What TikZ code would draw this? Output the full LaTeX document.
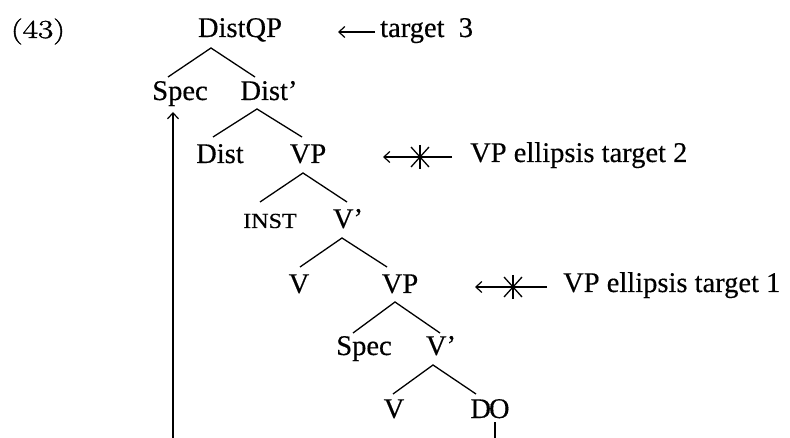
\documentclass[tikz,border=0pt]{standalone}
\usepackage{fontspec}
\setmainfont[FakeBold=0.4]{Liberation Serif}
\newfontfamily\lmfont[FakeBold=1.2]{Latin Modern Roman}
\usetikzlibrary{arrows.meta}
\tikzset{
  lbl/.style={inner sep=0pt, anchor=base, font=\fontsize{28.5}{30}\selectfont},
  lblw/.style={lbl, anchor=base west},
  br/.style={line width=1.3pt},
  ptr/.style={line width=1.3pt, -{Straight Barb[length=6pt,width=11pt,line width=1.2pt]}},
}
\begin{document}
\begin{tikzpicture}[x=1pt,y=-1pt]
\useasboundingbox (0,0) rectangle (790,438);
\node[inner sep=0pt, anchor=base, font=\lmfont\fontsize{26}{28}\selectfont] (n43) at (38,38) {\scalebox{1.28}[1]{(43)}};
\node[lbl] (DistQP) at (240,37) {DistQP};
\node[lbl] (Spec1) at (180,100) {Spec};
\node[lbl] (Dist1p) at (269,100) {Dist’};
\node[lbl] (Dist) at (220,163) {Dist};
\node[lbl] (VP1) at (308,163) {VP};
\node[inner sep=0pt, anchor=base, font=\fontsize{21.5}{24}\selectfont] (INST) at (270,228) {\scalebox{1.12}[1]{INST}};
\node[lbl] (V1p) at (348,228) {V’};
\node[lbl] (V1) at (299,293) {V};
\node[lbl] (VP2) at (400,293) {VP};
\node[lbl] (Spec2) at (364,355) {Spec};
\node[lbl] (V2p) at (441,355) {V’};
\node[lbl] (V2) at (394,418) {V};
\node[lbl] (DO) at (490,418) {D\kern-2ptO};
\node[lblw] (t3) at (380,37) {target\ \ 3};
\node[lblw] (t2) at (470,162) {VP ellipsis target 2};
\node[lblw] (t1) at (563,292) {VP ellipsis target 1};
% tree branches
\draw[br] ([shift={(-12,-23)}]Spec1.base) -- ([shift={(-29,11)}]DistQP.base) -- ([shift={(-14,-23)}]Dist1p.base);
\draw[br] ([shift={(-7,-26)}]Dist.base) -- ([shift={(-12,9)}]Dist1p.base) -- ([shift={(-6,-26)}]VP1.base);
\draw[br] ([shift={(-10,-26)}]INST.base) -- ([shift={(-5,10)}]VP1.base) -- ([shift={(-1,-26)}]V1p.base);
\draw[br] ([shift={(1,-26)}]V1.base) -- ([shift={(-6,10)}]V1p.base) -- ([shift={(-13,-26)}]VP2.base);
\draw[br] ([shift={(-11,-22)}]Spec2.base) -- ([shift={(-5,9)}]VP2.base) -- ([shift={(-1,-22)}]V2p.base);
\draw[br] ([shift={(-1,-24)}]V2.base) -- ([shift={(-8,10)}]V2p.base) -- ([shift={(-14,-24)}]DO.base);
% movement lines
\coordinate (bot1) at (173,438);
\coordinate (bot2) at (495,438);
\draw[ptr] (bot1) -- ([shift={(-7,12)}]Spec1.base);
\draw[br] ([shift={(5,4)}]DO.base) -- (bot2);
% target arrows
\coordinate (a3) at (375,32);
\draw[ptr] (a3) -- ([shift={(-42,-5)}]t3.base west);
\coordinate (s2) at (420,157);
\draw[ptr] ([shift={(-18,-5)}]t2.base west) -- ([shift={(-87,-5)}]t2.base west);
\draw[br] ([shift={(0,-12)}]s2) -- ([shift={(0,12)}]s2);
\draw[br] ([shift={(-9,-10)}]s2) -- ([shift={(9,10)}]s2);
\draw[br] ([shift={(-9,10)}]s2) -- ([shift={(9,-10)}]s2);
\coordinate (s1) at (513,287);
\draw[ptr] ([shift={(-16,-5)}]t1.base west) -- ([shift={(-88,-5)}]t1.base west);
\draw[br] ([shift={(0,-12)}]s1) -- ([shift={(0,12)}]s1);
\draw[br] ([shift={(-9,-10)}]s1) -- ([shift={(9,10)}]s1);
\draw[br] ([shift={(-9,10)}]s1) -- ([shift={(9,-10)}]s1);
\end{tikzpicture}
\end{document}
